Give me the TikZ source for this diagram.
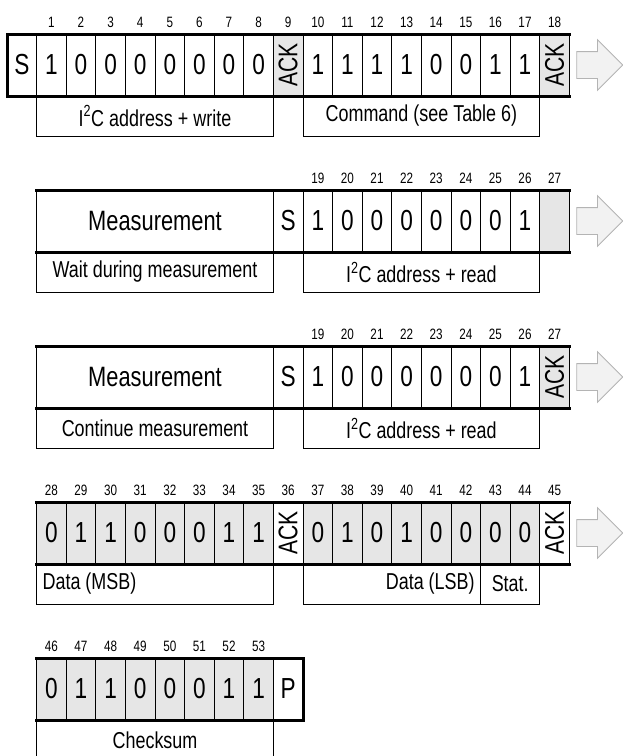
\documentclass[tikz,border=0pt]{standalone}
\usepackage{fontspec}
\setmainfont[FakeStretch=0.78]{Liberation Sans}
\usetikzlibrary{positioning,shapes.arrows}

\definecolor{cellgray}{HTML}{E6E6E6}
\definecolor{arrfill}{HTML}{F2F2F2}
\definecolor{arrline}{HTML}{B4B4B4}

\tikzset{
  cell/.style={draw,line width=.8pt,anchor=north west,outer sep=0pt,inner sep=0pt,
    minimum width=29.6pt,minimum height=62pt,font=\fontsize{29}{34}\selectfont},
  wide/.style={minimum width=236.8pt,font=\fontsize{28}{33}\selectfont},
  acktext/.style={rotate=90,inner sep=0pt,font=\fontsize{27}{32}\selectfont},
  bitnum/.style={inner sep=0pt,font=\fontsize{15}{18}\selectfont},
  field/.style={draw,line width=.8pt,anchor=north west,outer sep=0pt,inner xsep=6pt,
    inner ysep=0pt,minimum height=40pt,font=\fontsize{23}{27}\selectfont},
  heavy/.style={line width=3pt,line cap=rect,line join=miter},
  goon/.style={single arrow,draw=arrline,fill=arrfill,line width=.8pt,anchor=west,
    minimum height=46pt,inner xsep=0pt,inner ysep=13pt,single arrow head extend=12pt}
}

\begin{document}
\begin{tikzpicture}[x=1pt,y=-1pt]
\useasboundingbox (0,0) rectangle (623,756);

% write + command
\foreach \c/\t/\f in {0/S/white,1/1/white,2/0/white,3/0/white,4/0/white,5/0/white,
  6/0/white,7/0/white,8/0/white,9//cellgray,10/1/white,11/1/white,12/1/white,
  13/1/white,14/0/white,15/0/white,16/1/white,17/1/white,18//cellgray}
  \node[cell,fill=\f] (a\c) at ({7+29.6*\c},34) {\t};
\node[acktext] (ak9) at (a9) {ACK};
\node[acktext] (ak18) at (a18) {ACK};
\foreach \c in {1,...,18}
  \node[bitnum,above=6pt of a\c] (an\c) {\c};
\draw[heavy] (a18.north east) -- (a0.north west) -- (a0.south west) -- (a18.south east);
\node[field,minimum width=236.8pt] (af1) at (a1.south west) {I\textsuperscript{2}C address + write};
\node[field,minimum width=236.8pt] (af2) at (a10.south west) {Command (see Table 6)};
\node[goon] (ar1) at ([xshift=7pt]a18.east) {};

% read, no ack
\node[cell,wide] (bm) at (36.6,190) {Measurement};
\foreach \c/\t/\f in {9/S/white,10/1/white,11/0/white,12/0/white,13/0/white,
  14/0/white,15/0/white,16/0/white,17/1/white,18//cellgray}
  \node[cell,fill=\f] (b\c) at ({7+29.6*\c},190) {\t};
\foreach \n [count=\c from 10] in {19,...,27}
  \node[bitnum,above=6pt of b\c] (bn\c) {\n};
\draw[heavy] (bm.north west) -- (b18.north east);
\draw[heavy] (bm.south west) -- (b18.south east);
\node[field,minimum width=236.8pt] (bf1) at (bm.south west) {Wait during measurement};
\node[field,minimum width=236.8pt] (bf2) at (b10.south west) {I\textsuperscript{2}C address + read};
\node[goon] (ar2) at ([xshift=7pt]b18.east) {};

% read, ack
\node[cell,wide] (cm) at (36.6,346) {Measurement};
\foreach \c/\t/\f in {9/S/white,10/1/white,11/0/white,12/0/white,13/0/white,
  14/0/white,15/0/white,16/0/white,17/1/white,18//cellgray}
  \node[cell,fill=\f] (c\c) at ({7+29.6*\c},346) {\t};
\node[acktext] (ck18) at (c18) {ACK};
\foreach \n [count=\c from 10] in {19,...,27}
  \node[bitnum,above=6pt of c\c] (cn\c) {\n};
\draw[heavy] (cm.north west) -- (c18.north east);
\draw[heavy] (cm.south west) -- (c18.south east);
\node[field,minimum width=236.8pt] (cf1) at (cm.south west) {Continue measurement};
\node[field,minimum width=236.8pt] (cf2) at (c10.south west) {I\textsuperscript{2}C address + read};
\node[goon] (ar3) at ([xshift=7pt]c18.east) {};

% data
\foreach \c/\t/\f in {1/0/cellgray,2/1/cellgray,3/1/cellgray,4/0/cellgray,5/0/cellgray,
  6/0/cellgray,7/1/cellgray,8/1/cellgray,9//white,10/0/cellgray,11/1/cellgray,
  12/0/cellgray,13/1/cellgray,14/0/cellgray,15/0/cellgray,16/0/cellgray,
  17/0/cellgray,18//white}
  \node[cell,fill=\f] (d\c) at ({7+29.6*\c},502) {\t};
\node[acktext] (dk9) at (d9) {ACK};
\node[acktext] (dk18) at (d18) {ACK};
\foreach \n [count=\c] in {28,...,45}
  \node[bitnum,above=6pt of d\c] (dn\c) {\n};
\draw[heavy] (d1.north west) -- (d18.north east);
\draw[heavy] (d1.south west) -- (d18.south east);
\node[field,text width=224.8pt,align=flush left] (df1) at (d1.south west) {Data (MSB)};
\node[field,text width=165.6pt,align=flush right] (df2) at (d10.south west) {Data (LSB)};
\node[field,minimum width=59.2pt] (df3) at (d16.south west) {Stat.};
\node[goon] (ar4) at ([xshift=7pt]d18.east) {};

% checksum
\foreach \c/\t/\f in {1/0/cellgray,2/1/cellgray,3/1/cellgray,4/0/cellgray,5/0/cellgray,
  6/0/cellgray,7/1/cellgray,8/1/cellgray,9/P/white}
  \node[cell,fill=\f] (e\c) at ({7+29.6*\c},658) {\t};
\foreach \n [count=\c] in {46,...,53}
  \node[bitnum,above=6pt of e\c] (en\c) {\n};
\draw[heavy] (e1.north west) -- (e9.north east) -- (e9.south east) -- (e1.south west);
\node[field,minimum width=236.8pt] (ef1) at (e1.south west) {Checksum};
\end{tikzpicture}
\end{document}
